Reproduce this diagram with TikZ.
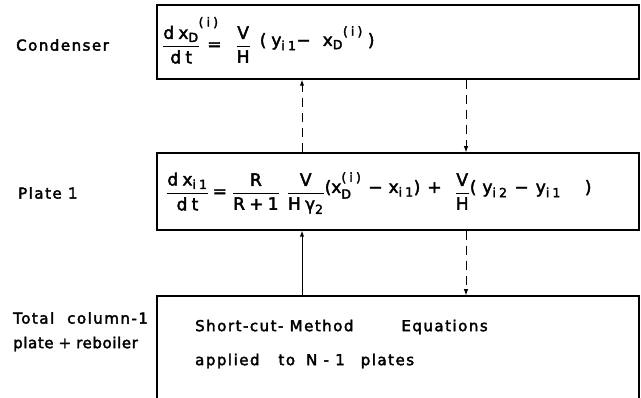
\documentclass[tikz,border=0pt]{standalone}
\usepackage{amsmath,mathtools}
\usepackage{fontspec}
\setmainfont{DejaVu Sans}[LetterSpace=10,FakeBold=2.5]
\newfontfamily\eqf{DejaVu Sans}[LetterSpace=25,FakeBold=2.5]
\usetikzlibrary{arrows.meta}
\DeclareMathSizes{17}{17}{12.5}{10}
\newcommand\tx[1]{\text{\eqf #1}}
\newcommand\fr[2]{\raisebox{-4.5pt}{$\displaystyle\genfrac{}{}{1.2pt}{0}{#1}{#2}$}}
\newcommand\eqs{\raisebox{-4pt}{\eqf =}}
\newcommand\ii[1]{\raisebox{#1}{$\scriptstyle\tx{(i)}$}}
\begin{document}
\begin{tikzpicture}[x=1pt,y=-1pt,
  box/.style={draw,line width=1.5pt,minimum width=482pt,inner sep=0pt},
  lbl/.style={anchor=west,inner sep=0pt,font=\fontsize{15}{18}\selectfont},
  eqn/.style={anchor=base west,inner sep=0pt,font=\fontsize{17}{20}\selectfont},
  flow/.style={line width=1pt,-{Latex[length=6pt,width=4.5pt]}},
  dflow/.style={flow,dash pattern=on 9pt off 6pt}]
\useasboundingbox (0,0) rectangle (641,398);
\node[box,minimum height=74pt] (cond) at (398,42) {};
\node[box,minimum height=77pt] (plate) at (398,191.5) {};
\node[box,minimum height=114pt] (bot) at (398,353) {};
\coordinate (xl) at (302,0);
\coordinate (xr) at (466,0);
\draw[dflow] (plate.north -| xl) -- (cond.south -| xl);
\draw[dflow] (cond.south -| xr) -- (plate.north -| xr);
\draw[flow] (bot.north -| xl) -- (plate.south -| xl);
\draw[dflow] (plate.south -| xr) -- (bot.north -| xr);
\node[lbl] (lc) at (16,45) {Condenser};
\node[lbl] (lp) at (18,193) {Plate 1};
\node[lbl] (lt1) at (13,318) {Total\hspace{13pt}column-1};
\node[lbl] (lt2) at (13,344) {\addfontfeature{LetterSpace=4}plate\hspace{5pt}+\hspace{5pt}reboiler};
\node[eqn] (e1) at (162,46) {$\fr{\tx{dx}_{\tx{D}}{}^{\mathrlap{\ii{6pt}}}}{\tx{dt}}\hspace{7pt}\eqs\hspace{14pt}\fr{\tx{V}}{\tx{H}}\hspace{9pt}\tx{(}\hspace{5pt}\tx{y}_{\tx{i1}}\tx{−}\hspace{12pt}\tx{x}_{\tx{D}}{}^{\ii{4pt}}\hspace{5pt}\tx{)}$};
\node[eqn] (e2) at (166,193) {$\fr{\tx{dx}_{\tx{i1}}}{\tx{dt}}\hspace{4pt}\eqs\hspace{5pt}\fr{\tx{R}}{\tx{R+1}}\hspace{7pt}\fr{\tx{V}}{\tx{Hγ}_{\tx{2}}}\tx{(}\tx{x}_{\tx{D}}^{\ii{5pt}}\hspace{7pt}\tx{−}\hspace{6pt}\tx{x}_{\tx{i1}}\tx{)}\hspace{7pt}\tx{+}\hspace{13pt}\fr{\tx{V}}{\tx{H}}\tx{(}\hspace{6pt}\tx{y}_{\tx{i2}}\hspace{7pt}\tx{−}\hspace{7pt}\tx{y}_{\tx{i1}}\hspace{24pt}\tx{)}$};
\node[lbl] (s1) at (195,327) {Short-cut- Method\hspace{48pt}Equations};
\node[lbl] (s2) at (195,361) {applied\hspace{19pt}to\hspace{11pt}N - 1\hspace{16pt}plates};
\end{tikzpicture}
\end{document}
